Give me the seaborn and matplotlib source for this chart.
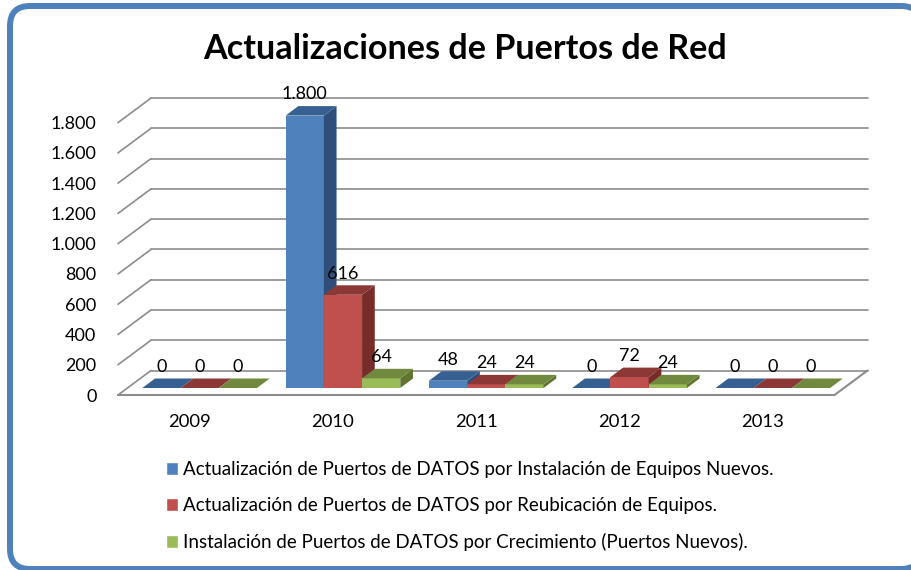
import matplotlib
matplotlib.use("Agg")
import matplotlib.pyplot as plt
from matplotlib.patches import FancyBboxPatch, Polygon
import pandas as pd
import seaborn as sns

years = ["2009", "2010", "2011", "2012", "2013"]
instalacion = [0, 1800, 48, 0, 0]
reubicacion = [0, 616, 24, 72, 0]
crecimiento = [0, 64, 24, 24, 0]
series_names = [
    "Actualización de Puertos de DATOS por Instalación de Equipos Nuevos.",
    "Actualización de Puertos de DATOS por Reubicación de Equipos.",
    "Instalación de Puertos de DATOS por Crecimiento (Puertos Nuevos).",
]
y_ticks = [0, 200, 400, 600, 800, 1000, 1200, 1400, 1600, 1800]

front_colors = ["#4F81BD", "#C0504D", "#9BBB59"]
top_colors = ["#376092", "#8C3836", "#71893F"]
side_colors = ["#2F4F7A", "#772C2A", "#5F7530"]
GRAY = "#8C8C8C"

W, H = 911, 570


def px_axes(left, top, right, bottom):
    return plt.figure(1).add_axes([left / W, 1 - bottom / H, (right - left) / W, (bottom - top) / H])


def dotted(v):
    return f"{int(v):,}".replace(",", ".")


sns.set_theme(style="white")
plt.rcParams["font.family"] = ["Lato", "DejaVu Sans"]

df = pd.DataFrame({"year": years, series_names[0]: instalacion,
                   series_names[1]: reubicacion, series_names[2]: crecimiento})
df = df.melt(id_vars="year", var_name="serie", value_name="puertos")

fig = plt.figure(1, figsize=(W / 100, H / 100), dpi=100, facecolor="white")

# rounded frame
bg = fig.add_axes([0, 0, 1, 1])
bg.set_xlim(0, W)
bg.set_ylim(H, 0)
bg.axis("off")
bg.add_patch(FancyBboxPatch((30, 26), W - 40, H - 47, boxstyle="round,pad=20,rounding_size=20",
                            fc="white", ec="#4F81BD", lw=4.3))
bg.text(465.5, 49, "Actualizaciones de Puertos de Red", ha="center", va="center",
        fontsize=24.6, fontweight="bold", color="black")

# front plane of the chart, walls and floor
ax = px_axes(118, 122.6, 834.5, 395)
ax.set_facecolor("none")
ax.set_xlim(-0.5, 4.5)
ax.set_ylim(0, 1800)
depth_x = 33 / 143.3
depth_y = 24.5 / (272.4 / 1800)
for v in y_ticks:
    ax.plot([-0.5, -0.5 + depth_x], [v, v + depth_y], color=GRAY, lw=1.2, clip_on=False)
    ax.plot([-0.5 + depth_x, 4.5 + depth_x], [v + depth_y, v + depth_y], color=GRAY, lw=1.2, clip_on=False)
ax.plot([-0.5, 4.5, 4.5 + depth_x], [0, 0, depth_y], color=GRAY, lw=1.5, clip_on=False)
ax.set_xticks(range(len(years)), years)
ax.set_yticks(y_ticks, [dotted(v) for v in y_ticks])
ax.tick_params(axis="x", length=0, pad=14, labelsize=13.3, labelcolor="black")
ax.tick_params(axis="y", length=0, pad=15.5, labelsize=13, labelcolor="black")
ax.set_xlabel("")
ax.set_ylabel("")
sns.despine(ax=ax, left=True, bottom=True)

# bars sit a little behind the front plane
bars_ax = px_axes(128, 115.6, 844.5, 388)
bars_ax.set_facecolor("none")
sns.barplot(data=df, x="year", y="puertos", hue="serie", order=years, hue_order=series_names,
            palette=front_colors, saturation=1, width=0.8, dodge=True, ax=bars_ax)
bars_ax.set_xlim(-0.5, 4.5)
bars_ax.set_ylim(0, 1800)
bars_ax.axis("off")

bar_dx = 12.7 / 143.3
bar_dy = 9.5 / (272.4 / 1800)
for i, bars in enumerate(bars_ax.containers):
    for rect in bars:
        x0, x1 = rect.get_x(), rect.get_x() + rect.get_width()
        h = rect.get_height()
        rect.set_zorder(3 + i)
        rect.set_linewidth(0)
        bars_ax.add_patch(Polygon([(x1, 0), (x1 + bar_dx, bar_dy), (x1 + bar_dx, h + bar_dy), (x1, h)],
                                  fc=side_colors[i], ec="none", zorder=3 + i, clip_on=False))
        bars_ax.add_patch(Polygon([(x0, h), (x0 + bar_dx, h + bar_dy), (x1 + bar_dx, h + bar_dy), (x1, h)],
                                  fc=top_colors[i], ec="none", zorder=3 + i, clip_on=False))
    labels = bars_ax.bar_label(bars, labels=[dotted(r.get_height()) for r in bars], padding=9.5,
                               fontsize=13, color="black", zorder=10)
    for t in labels:
        t.set_clip_on(False)

handles, names = bars_ax.get_legend_handles_labels()
bars_ax.get_legend().remove()
bg.set_zorder(0)
ax.set_zorder(1)
bars_ax.set_zorder(2)
fig.legend(handles, names, loc="upper left", bbox_to_anchor=(166 / W, 1 - 461 / H), frameon=False,
           fontsize=13.5, labelspacing=1.02, handlelength=0.66, handleheight=0.66, handletextpad=0.27,
           borderpad=0, borderaxespad=0, labelcolor="black")

fig.savefig("out.png", dpi=100)
